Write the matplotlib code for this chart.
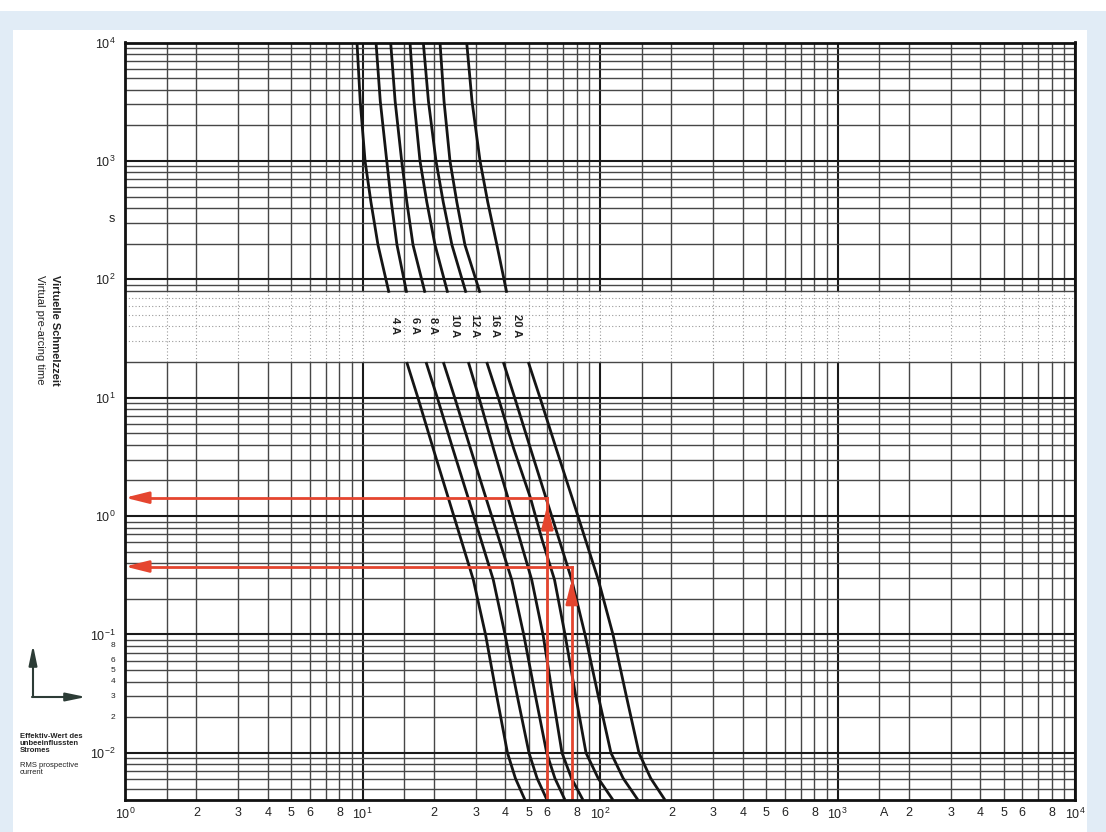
import matplotlib.pyplot as plt
from matplotlib.patches import Rectangle
from matplotlib.ticker import NullLocator

plt.rcParams["font.family"] = ["Liberation Sans", "DejaVu Sans"]
plt.rcParams["mathtext.fontset"] = "custom"
plt.rcParams["mathtext.rm"] = "Liberation Sans"
plt.rcParams["mathtext.it"] = "Liberation Sans:italic"
plt.rcParams["mathtext.bf"] = "Liberation Sans:bold"

# fuse ratings, one curve each
ratings = ["4 A", "6 A", "8 A", "10 A", "12 A", "16 A", "20 A"]

# upper branch: current (A) at these pre-arcing times (s)
upper_times = [10000, 3200, 1000, 450, 195, 77]
upper_currents = [
    [9.48, 9.78, 10.25, 10.85, 11.62, 12.93],
    [11.4, 11.88, 12.65, 13.22, 13.97, 15.35],
    [13.14, 13.72, 14.62, 15.37, 16.32, 18.33],
    [15.85, 16.48, 17.46, 18.65, 20.2, 22.84],
    [18.03, 18.95, 20.39, 21.87, 23.8, 27.28],
    [21.2, 22.04, 23.35, 24.95, 27.0, 31.25],
    [27.46, 28.91, 31.25, 33.67, 36.8, 40.5],
]

# lower branch: current (A) at these pre-arcing times (s)
lower_times = [20, 10, 3.76, 1.42, 0.63, 0.29, 0.1, 0.031, 0.01, 0.0061, 0.004]
lower_currents = [
    [15.35, 17.11, 19.81, 22.98, 26.02, 29.28, 32.96, 36.66, 40.78, 44.03, 48.32],
    [18.51, 20.65, 23.95, 27.87, 31.55, 35.53, 39.81, 44.72, 50.24, 54.35, 59.83],
    [21.89, 24.45, 28.44, 33.11, 37.63, 42.49, 47.72, 53.36, 59.65, 64.59, 71.23],
    [27.9, 30.94, 35.53, 41.0, 46.08, 51.57, 57.54, 63.1, 69.18, 75.86, 84.8],
    [33.34, 37.3, 43.23, 50.98, 57.05, 64.34, 71.23, 78.86, 87.33, 98.26, 113.4],
    [39.16, 43.73, 50.88, 59.25, 67.34, 76.0, 86.47, 98.07, 111.2, 125.2, 144.5],
    [49.9, 55.9, 65.27, 76.38, 86.89, 98.35, 113.4, 128.7, 145.9, 163.5, 187.8],
]

# where the rating labels sit (current in A), all at the same time
label_currents = [13.7, 16.6, 19.8, 24.5, 29.8, 36.1, 44.7]
label_time = 41

# red read-off examples: current (A), time on the curve (s), arrow tip (s)
readoff_currents = [60, 76]
readoff_times = [1.43, 0.375]
readoff_tips = [1.24, 0.29]

# axis ranges and grid
x_range = (1, 10000)
y_range = (0.004, 10000)
x_decades = [1, 10, 100, 1000, 10000]
x_steps = [1.5, 2, 3, 4, 5, 6, 7, 8, 9]
y_decades = [0.01, 0.1, 1, 10, 100, 1000, 10000]
y_steps = [2, 3, 4, 5, 6, 7, 8, 9]
label_band = (20, 80)

# tick labels
x_tick_values = []
x_tick_labels = []
for d in [1, 10, 100, 1000]:
    x_tick_values.append(d)
    x_tick_labels.append("$10^{%d}$" % len(str(d)[1:]))
    for m in [2, 3, 4, 5, 6, 8]:
        x_tick_values.append(m * d)
        x_tick_labels.append(str(m))
x_tick_values += [10000, 1570]
x_tick_labels += ["$10^{4}$", "A"]

y_tick_values = [0.01, 0.1, 1, 10, 100, 330, 1000, 10000]
y_tick_labels = ["$10^{-2}$", "$10^{-1}$", "$10^{0}$", "$10^{1}$",
                 "$10^{2}$", "s", "$10^{3}$", "$10^{4}$"]
y_small_values = [0.02, 0.03, 0.04, 0.05, 0.06, 0.08]
y_small_labels = ["2", "3", "4", "5", "6", "8"]

W, H = 1106, 832
red = "#e5452f"
major_color = "#1a1a1a"
minor_color = "#474747"
band_color = "#9a9a9a"

fig = plt.figure(figsize=(W / 100, H / 100), dpi=100)
fig.patch.set_facecolor("#e1ecf6")
fig.add_artist(Rectangle((13 / W, 0), (1087 - 13) / W, (H - 30) / H,
                         transform=fig.transFigure, facecolor="white",
                         edgecolor="none", zorder=-1))
fig.add_artist(Rectangle((0, 1 - 11 / H), 1, 11 / H, transform=fig.transFigure,
                         facecolor="white", edgecolor="none", zorder=-1))

ax = fig.add_axes([125 / W, 1 - 800 / H, 950 / W, (800 - 42.5) / H])
ax.set_xscale("log")
ax.set_yscale("log")
ax.set_xlim(*x_range)
ax.set_ylim(*y_range)

# vertical grid lines, dotted inside the label band
x_grid = [d * m for d in x_decades[:-1] for m in x_steps] + x_decades
for x in x_grid:
    is_major = x in x_decades
    col = major_color if is_major else minor_color
    lw = 1.5 if is_major else 1.0
    ax.vlines(x, y_range[0], label_band[0], color=col, lw=lw, zorder=1)
    ax.vlines(x, label_band[1], y_range[1], color=col, lw=lw, zorder=1)
    ax.vlines(x, label_band[0], label_band[1], color=band_color, lw=0.8,
              linestyles=(0, (1, 2)), zorder=1)

# horizontal grid lines
y_grid = [d * m for d in [0.001] + y_decades[:-1] for m in y_steps]
y_grid = [y for y in y_grid if y > y_range[0]] + y_decades
for y in y_grid:
    is_major = y in y_decades
    if label_band[0] < y < label_band[1]:
        ax.hlines(y, *x_range, color=band_color, lw=0.8,
                  linestyles=(0, (1, 2)), zorder=1)
    else:
        ax.hlines(y, *x_range, color=major_color if is_major else minor_color,
                  lw=1.5 if is_major else 1.0, zorder=1)

# fuse curves
for cur in upper_currents:
    ax.plot(cur, upper_times, color="#151515", lw=2, zorder=3,
            solid_capstyle="butt", solid_joinstyle="round")
for cur in lower_currents:
    ax.plot(cur, lower_times, color="#151515", lw=2, zorder=3,
            solid_capstyle="butt", solid_joinstyle="round")

for name, xc in zip(ratings, label_currents):
    ax.text(xc, label_time, name, rotation=270, ha="center", va="center",
            fontsize=8, fontweight="bold", color="#222222", zorder=4)

# red read-off lines with arrows
for xc, t, tip in zip(readoff_currents, readoff_times, readoff_tips):
    ax.plot([xc, xc], [y_range[0], t], color=red, lw=2, zorder=5)
    ax.plot([x_range[0] * 1.12, xc], [t, t], color=red, lw=2, zorder=5)
    ax.annotate("", xy=(x_range[0], t), xytext=(x_range[0] * 1.2, t),
                arrowprops=dict(arrowstyle="-|>,head_length=1.4,head_width=0.35",
                                color=red, lw=2, shrinkA=0, shrinkB=0),
                zorder=6)
    ax.annotate("", xy=(xc, tip), xytext=(xc, tip * 0.8),
                arrowprops=dict(arrowstyle="-|>,head_length=1.4,head_width=0.35",
                                color=red, lw=2, shrinkA=0, shrinkB=0),
                zorder=6)

for s in ax.spines.values():
    s.set_linewidth(2)
    s.set_color("#111111")
    s.set_zorder(6)

ax.xaxis.set_minor_locator(NullLocator())
ax.yaxis.set_minor_locator(NullLocator())
ax.set_xticks(x_tick_values, labels=x_tick_labels)
ax.set_yticks(y_tick_values, labels=y_tick_labels)
ax.tick_params(length=0, labelsize=9, colors="#222222")
ax.tick_params(axis="x", pad=5)
ax.tick_params(axis="y", pad=7)
for yv, lab in zip(y_small_values, y_small_labels):
    ax.annotate(lab, xy=(0, yv), xycoords=("axes fraction", "data"),
                xytext=(-7, 0), textcoords="offset points", ha="right",
                va="center", fontsize=6, color="#222222")

# axis title, rotated
fig.text(55 / W, 1 - 275 / H, "Virtuelle Schmelzzeit", rotation=270,
         ha="center", va="top", fontsize=8, fontweight="bold", color="#222222")
fig.text(40 / W, 1 - 275 / H, "Virtual pre-arcing time", rotation=270,
         ha="center", va="top", fontsize=8, color="#222222")

# little axis key in the lower left
key_color = "#2c3c36"
ax.annotate("", xy=(33, H - 645), xycoords="figure pixels",
            xytext=(33, H - 697), textcoords="figure pixels",
            arrowprops=dict(arrowstyle="-|>,head_length=1.2,head_width=0.25",
                            color=key_color, lw=1.5, shrinkA=0, shrinkB=0),
            annotation_clip=False)
ax.annotate("", xy=(86, H - 697), xycoords="figure pixels",
            xytext=(32, H - 697), textcoords="figure pixels",
            arrowprops=dict(arrowstyle="-|>,head_length=1.2,head_width=0.25",
                            color=key_color, lw=1.5, shrinkA=0, shrinkB=0),
            annotation_clip=False)
fig.text(20 / W, 1 - 733 / H, "Effektiv-Wert des\nunbeeinflussten\nStromes",
         ha="left", va="top", fontsize=5.5, fontweight="bold",
         color="#222222", linespacing=1.05)
fig.text(20 / W, 1 - 762 / H, "RMS prospective\ncurrent", ha="left",
         va="top", fontsize=5.5, color="#222222", linespacing=1.05)

fig.savefig("out.png", dpi=100, facecolor=fig.get_facecolor())
